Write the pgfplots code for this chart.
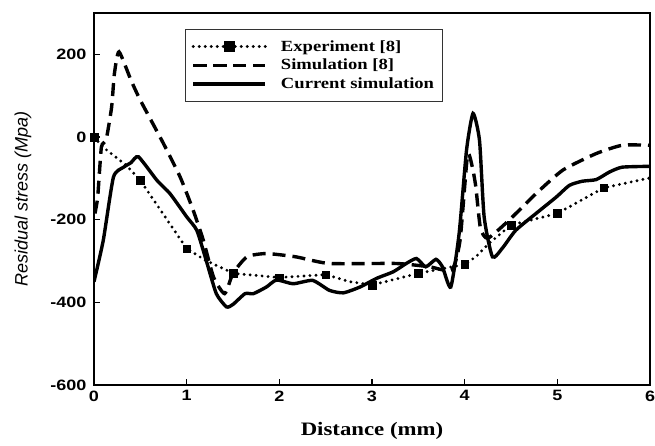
\documentclass[border=0pt]{standalone}
\usepackage{fontspec}
\usepackage{pgfplots}
\pgfplotsset{compat=1.18}
\setmainfont{Liberation Serif}
\newfontfamily\tickf{Liberation Sans}[FakeStretch=1.2]
\newfontfamily\ylabf{Liberation Sans}
\newfontfamily\legf{Liberation Serif}[FakeStretch=1.2]
\begin{document}
\begin{tikzpicture}
\path[use as bounding box] (-94pt,-61pt) rectangle (561pt,385pt);
\begin{axis}[
  at={(0pt,0pt)}, anchor=south west,
  scale only axis, width=556pt, height=372pt,
  xmin=0, xmax=6, ymin=-600, ymax=300,
  xtick={0,1,2,3,4,5,6},
  ytick={-600,-400,-200,0,200},
  axis line style={line width=2.4pt},
  tick style={line width=1.6pt, black},
  tick align=inside,
  major tick length=6pt,
  xtick pos=bottom, ytick pos=left,
  /pgf/number format/assume math mode=true,
  ticklabel style={font=\tickf\bfseries\fontsize{15}{16}\selectfont},
  xticklabel style={yshift=-2pt},
  yticklabel style={xshift=-4pt},
  xlabel={\legf\bfseries\fontsize{19}{22}\selectfont Distance (mm)},
  xlabel style={at={(axis description cs:0.5,0)}, anchor=north, yshift=-34pt},
  ylabel={\ylabf\itshape\fontsize{18}{21}\selectfont Residual stress (Mpa)},
  ylabel style={at={(axis description cs:0,0.5)}, anchor=south, yshift=59pt},
  legend style={at={(rel axis cs:0.164,0.957)}, anchor=north west,
    draw=black!80, line width=0.8pt, inner xsep=6pt, inner ysep=9pt,
    font=\legf\bfseries\fontsize{15.5}{18}\selectfont,
    row sep=2.5pt, column sep=12pt, cells={anchor=west}},
  legend image code/.code={\draw[mark repeat=2,mark phase=2,#1] plot coordinates {(0pt,0pt) (36pt,0pt) (72pt,0pt)};},
]
% Experiment [8] - dotted line
\addplot[black, line width=3.2pt, line cap=round, dash pattern=on 0pt off 6pt, forget plot] coordinates {
(0,0) (0.1,-25) (0.35,-69) (0.5,-105) (1.0,-270) (1.2,-298) (1.43,-322) (1.5,-330)
(2.0,-340) (2.5,-333) (2.76,-350) (3.0,-358) (3.5,-330) (4.0,-308) (4.12,-290)
(4.26,-258) (4.5,-213) (5.0,-185) (5.5,-123) (6.0,-99)
};
\addplot[black, only marks, mark=square*, mark size=3.8pt, forget plot] coordinates {
(0,0) (0.5,-105) (1.0,-270) (1.5,-330) (2.0,-340) (2.5,-333) (3.0,-358)
(3.5,-330) (4.0,-308) (4.5,-213) (5.0,-185) (5.5,-123)
};
\addlegendimage{black, line width=3.2pt, line cap=round, dash pattern=on 0pt off 6pt, mark=square*, mark size=4pt, mark options={solid, rounded corners=1.5pt}}
\addlegendentry{Experiment [8]}
% Simulation [8] - dashed
\addplot[black, line width=3.4pt, dash pattern=on 13pt off 7pt, smooth, tension=0.35] coordinates {
(0.01,-185) (0.04,-145) (0.08,-24) (0.13,-8) (0.19,72) (0.22,153) (0.27,206)
(0.40,137) (0.5,89) (0.75,-16) (0.93,-97) (1.07,-177) (1.18,-250)
(1.29,-339) (1.41,-379) (1.5,-330) (1.65,-290) (1.86,-282) (2.18,-290) (2.54,-306)
(3.26,-306) (3.62,-314) (3.86,-322) (3.95,-250) (4.03,-45) (4.08,-70) (4.12,-120)
(4.17,-220) (4.25,-245) (4.48,-201) (4.77,-137) (5.06,-80) (5.42,-40) (5.70,-20) (6.0,-20)
};
\addlegendentry{Simulation [8]}
% Current simulation - solid
\addplot[black, line width=3.4pt, smooth, tension=0.35] coordinates {
(0,-350) (0.1,-250) (0.21,-97) (0.32,-73) (0.4,-62) (0.48,-48) (0.68,-105) (0.82,-137)
(1.0,-193) (1.11,-226) (1.21,-298) (1.32,-379) (1.43,-411) (1.5,-405) (1.63,-379)
(1.72,-379) (1.86,-363) (1.97,-346) (2.15,-355) (2.36,-347) (2.54,-371) (2.69,-377)
(2.87,-363) (3.05,-342) (3.23,-326) (3.37,-306) (3.48,-294) (3.58,-314) (3.69,-296)
(3.76,-314) (3.85,-363) (3.94,-234) (4.02,-32) (4.09,57) (4.16,-8) (4.21,-193)
(4.30,-290) (4.41,-268) (4.55,-226) (4.77,-185) (4.99,-145) (5.13,-117) (5.27,-107)
(5.42,-103) (5.56,-85) (5.70,-73) (6.0,-71)
};
\addlegendentry{Current simulation}
\end{axis}
\end{tikzpicture}
\end{document}
